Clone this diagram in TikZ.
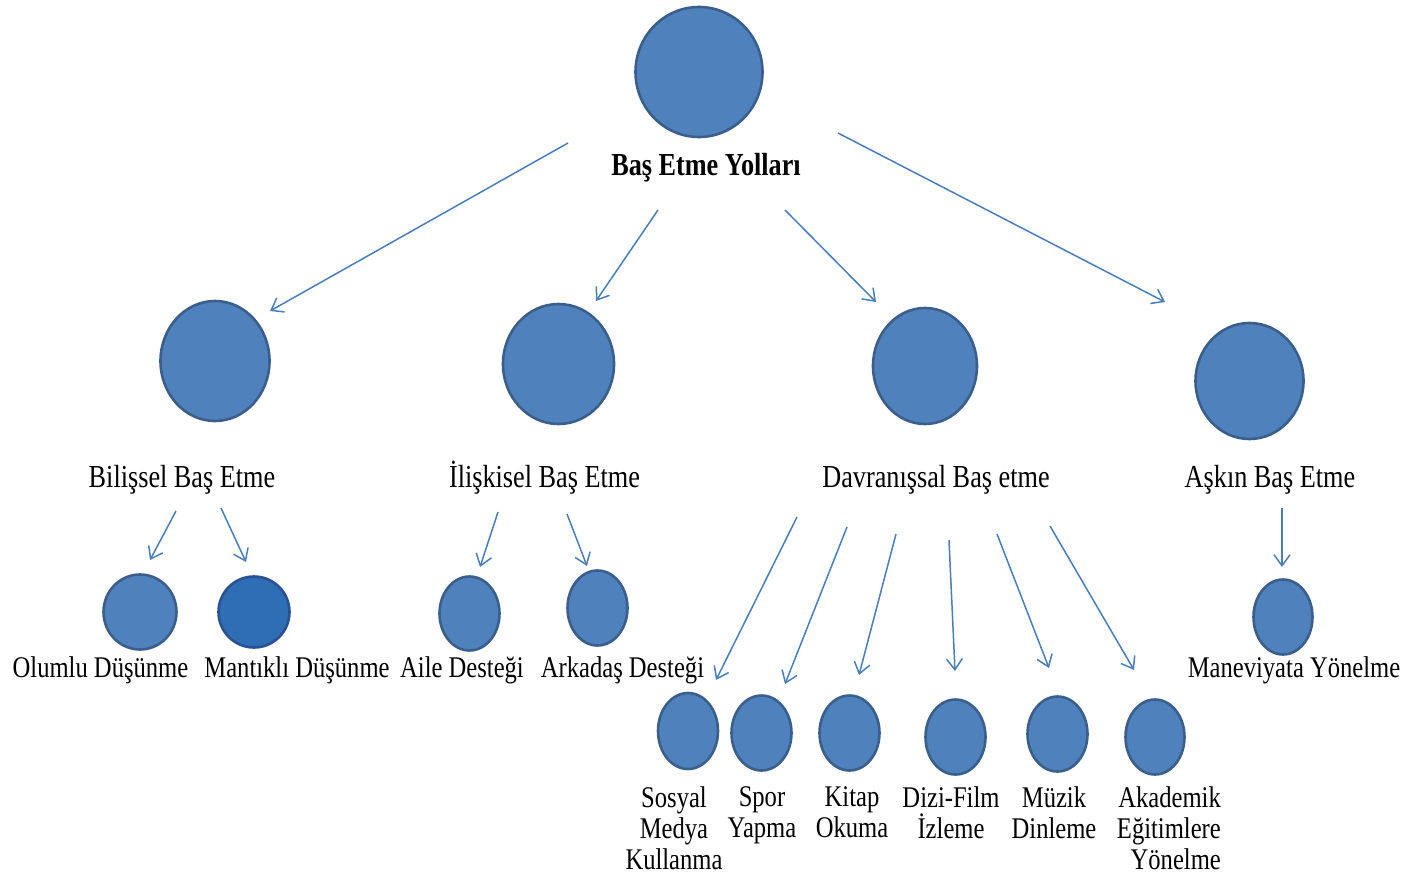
\documentclass[tikz,border=0pt]{standalone}
\usepackage{fontspec}
\setmainfont{Liberation Serif}[FakeStretch=0.82]
\usetikzlibrary{shapes.geometric,arrows.meta}
\definecolor{bubfill}{HTML}{4F81BD}
\definecolor{bubline}{HTML}{3A5F8C}
\definecolor{bubfilldark}{HTML}{2E6EB4}
\definecolor{bublinedark}{HTML}{2A5194}
\definecolor{arrowc}{HTML}{4A7EBB}
\newcommand\lblfont{\fontsize{32}{31}\selectfont}
\newcommand\leaffont{\fontsize{30}{31}\selectfont}
\tikzset{
  bub/.style={ellipse, draw=bubline, fill=bubfill, line width=2.6pt, inner sep=0pt},
  lbl/.style={font=\lblfont, inner sep=0pt},
  leaf/.style={font=\leaffont, inner sep=0pt},
  link/.style={draw=arrowc, line width=1.5pt, -{Straight Barb[length=11pt,width=16pt]}},
}
\begin{document}
\begin{tikzpicture}[x=1pt,y=-1pt]
\useasboundingbox (0,0) rectangle (1409,878);

% circles
\node[bub, minimum width=127, minimum height=130] (top) at (699,72) {};
\node[bub, minimum width=109, minimum height=120] (bil) at (215,361) {};
\node[bub, minimum width=111, minimum height=120] (ili) at (558.5,364) {};
\node[bub, minimum width=104, minimum height=116] (dav) at (925,366) {};
\node[bub, minimum width=108, minimum height=116] (ask) at (1249.5,381) {};
\node[bub, minimum width=73, minimum height=75] (olu) at (140,612) {};
\node[bub, draw=bublinedark, fill=bubfilldark, minimum width=71, minimum height=71] (man) at (254,612) {};
\node[bub, minimum width=60, minimum height=74] (ail) at (469.5,613.5) {};
\node[bub, minimum width=60, minimum height=75] (ark) at (597.5,608) {};
\node[bub, minimum width=59, minimum height=75] (mnv) at (1283,617) {};
\node[bub, minimum width=60, minimum height=76] (sos) at (688,731) {};
\node[bub, minimum width=60, minimum height=75] (spo) at (761.5,733) {};
\node[bub, minimum width=60, minimum height=75] (kit) at (849.5,733) {};
\node[bub, minimum width=60, minimum height=75] (diz) at (955.5,737) {};
\node[bub, minimum width=60, minimum height=75] (muz) at (1057.5,734) {};
\node[bub, minimum width=59, minimum height=75] (aka) at (1155,737) {};

% labels
\node[lbl, anchor=base, font=\lblfont\bfseries] (tTop) at (706,175) {Baş Etme Yolları};
\node[lbl, anchor=base] (tBil) at (182,487) {Bilişsel Baş Etme};
\node[lbl, anchor=base] (tIli) at (544.5,487) {İlişkisel Baş Etme};
\node[lbl, anchor=base] (tDav) at (936,487) {Davranışsal Baş etme};
\node[lbl, anchor=base] (tAsk) at (1270,487) {Aşkın Baş Etme};
\node[leaf, anchor=base] (tOlu) at (100.5,677) {Olumlu Düşünme};
\node[leaf, anchor=base] (tMan) at (297,677) {Mantıklı Düşünme};
\node[leaf, anchor=base] (tAil) at (462,677) {Aile Desteği};
\node[leaf, anchor=base] (tArk) at (622.5,677) {Arkadaş Desteği};
\node[leaf, anchor=base] (tMnv) at (1294,677) {Maneviyata Yönelme};
\node[leaf, anchor=north, align=center] (tSos) at (674,786) {Sosyal\\Medya\\Kullanma};
\node[leaf, anchor=north, align=center] (tSpo) at (762,786) {Spor\\Yapma};
\node[leaf, anchor=north, align=center] (tKit) at (852,786) {Kitap\\Okuma};
\node[leaf, anchor=north, align=center] (tDiz) at (951,786) {Dizi-Film\\İzleme};
\node[leaf, anchor=north, align=center] (tMuz) at (1054,786) {Müzik\\Dinleme};
\node[leaf, anchor=north east, align=right] (tAka) at (1221,786) {Akademik\\Eğitimlere\\Yönelme};

% arrow end points
\coordinate (s1) at (568,143);  \coordinate (e1) at (270,311);
\coordinate (s2) at (658,210);  \coordinate (e2) at (596,301);
\coordinate (s3) at (785,210);  \coordinate (e3) at (876,302);
\coordinate (s4) at (838,133);  \coordinate (e4) at (1165,302);
\coordinate (s5) at (176,511);  \coordinate (e5) at (150,560);
\coordinate (s6) at (221,508);  \coordinate (e6) at (246,562);
\coordinate (s7) at (498,512);  \coordinate (e7) at (480,567);
\coordinate (s8) at (567,514);  \coordinate (e8) at (587,566);
\coordinate (s9) at (1282,508); \coordinate (e9) at (1282,567);
\coordinate (s10) at (797,517); \coordinate (e10) at (716,680);
\coordinate (s11) at (847,527); \coordinate (e11) at (785,684);
\coordinate (s12) at (896,534); \coordinate (e12) at (859,675);
\coordinate (s13) at (949,540); \coordinate (e13) at (955,671);
\coordinate (s14) at (997,534); \coordinate (e14) at (1049,668);
\coordinate (s15) at (1050,526); \coordinate (e15) at (1134,670);

% arrows
\foreach \i in {1,...,15} { \draw[link] (s\i) -- (e\i); }
\end{tikzpicture}
\end{document}
